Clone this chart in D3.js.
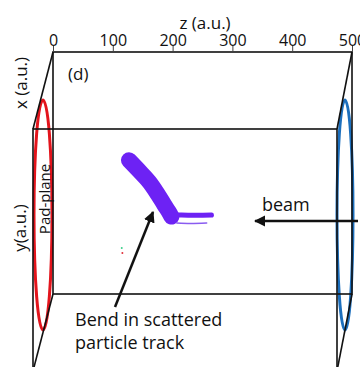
<!DOCTYPE html>
<html>
<head>
<meta charset="utf-8">
<script src="https://cdn.jsdelivr.net/npm/d3@7"></script>
<style>
  html, body { margin: 0; padding: 0; background: #fff; }
  svg { display: block; }
  text { font-family: "Open Sans", Lato, sans-serif; fill: #111; }
</style>
</head>
<body>
<svg id="chart" width="360" height="367"></svg>
<script>
// z-axis ticks (arbitrary units)
const zTicks = [0, 100, 200, 300, 400, 500];

// Scattered particle track: curved part (z, y in a.u.)
const trackCurveZ = [127, 144, 161, 175, 186, 194, 198];
const trackCurveY = [55.3, 50.9, 46.3, 41.3, 36.9, 33.8, 32.0];
// Flat part of the track, running along the beam direction
const trackFlatZ = [192, 215, 240, 265];
const trackFlatY = [32.6, 32.6, 32.5, 32.6];
// Faint secondary hits just below the flat part
const trackFaintZ = [207, 230, 257];
const trackFaintY = [29.3, 29.1, 29.3];
// Stray single hits
const strayZ = [116, 115];
const strayY = [16.9, 19.0];
const strayColor = ["#e0303a", "#3ad08a"];

const svg = d3.select("#chart");

// Back-face scales
const z = d3.scaleLinear().domain([0, 500]).range([53, 352]);
const y = d3.scaleLinear().domain([0, 100]).range([294, 52]);

// Front face is shifted down-left relative to the back face
const frontL = 33, frontR = 337, frontT = 129, frontB = 371;
const backL = z(0), backR = z(500), backT = y(100), backB = y(0);

// Pad-plane (red) and beam-end (blue) ellipses
svg.append("ellipse")
  .attr("cx", 43).attr("cy", 215).attr("rx", 9).attr("ry", 115)
  .attr("fill", "none").attr("stroke", "#e3141c").attr("stroke-width", 3);
svg.append("ellipse")
  .attr("cx", 345).attr("cy", 215).attr("rx", 8).attr("ry", 115)
  .attr("fill", "none").attr("stroke", "#1c6fbd").attr("stroke-width", 3);

// Box edges
const box = svg.append("g").attr("stroke", "#111").attr("stroke-width", 1.6).attr("fill", "none");
box.append("rect").attr("x", backL).attr("y", backT).attr("width", backR - backL).attr("height", backB - backT);
box.append("rect").attr("x", frontL).attr("y", frontT).attr("width", frontR - frontL).attr("height", frontB - frontT);
[[backL, backT, frontL, frontT], [backR, backT, frontR, frontT],
 [backL, backB, frontL, frontB], [backR, backB, frontR, frontB]].forEach(d => {
  box.append("line").attr("x1", d[0]).attr("y1", d[1]).attr("x2", d[2]).attr("y2", d[3]);
});

// Top z axis
const zAxis = d3.axisTop(z).tickValues(zTicks).tickSize(6).tickPadding(0).tickFormat(d3.format("d"));
const ax = svg.append("g").attr("transform", `translate(0,${backT})`).call(zAxis);
ax.select(".domain").remove();
ax.selectAll(".tick line").attr("stroke", "#444").attr("stroke-width", 1);
ax.selectAll(".tick text").attr("font-size", 16).attr("fill", "#111")
  .attr("font-family", "'Open Sans', Lato, sans-serif");

// Axis titles
svg.append("text").attr("x", 205).attr("y", 29).attr("text-anchor", "middle")
  .attr("font-size", 17).text("z (a.u.)");
svg.append("text").attr("transform", "translate(27,83) rotate(-90)").attr("text-anchor", "middle")
  .attr("font-size", 17).text("x (a.u.)");
svg.append("text").attr("transform", "translate(26,228) rotate(-90)").attr("text-anchor", "middle")
  .attr("font-size", 17).text("y(a.u.)");
svg.append("text").attr("transform", "translate(50,199) rotate(-90)").attr("text-anchor", "middle")
  .attr("font-size", 15).text("Pad-plane");
svg.append("text").attr("x", 68).attr("y", 80).attr("font-size", 17).text("(d)");

// Track
const trackColor = "#6d22f4";
const line = d3.line().x(d => z(d[0])).y(d => y(d[1])).curve(d3.curveCatmullRom);
svg.append("path")
  .attr("d", line(trackCurveZ.map((v, i) => [v, trackCurveY[i]])))
  .attr("fill", "none").attr("stroke", trackColor).attr("stroke-width", 16)
  .attr("stroke-linecap", "round").attr("stroke-linejoin", "round");
svg.append("path")
  .attr("d", line(trackFlatZ.map((v, i) => [v, trackFlatY[i]])))
  .attr("fill", "none").attr("stroke", trackColor).attr("stroke-width", 5)
  .attr("stroke-linecap", "round");
svg.append("path")
  .attr("d", line(trackFaintZ.map((v, i) => [v, trackFaintY[i]])))
  .attr("fill", "none").attr("stroke", "#8a5cf0").attr("stroke-width", 1.5)
  .attr("stroke-linecap", "round");
svg.selectAll(".stray").data(strayZ).join("circle")
  .attr("cx", d => z(d)).attr("cy", (d, i) => y(strayY[i])).attr("r", 1)
  .attr("fill", (d, i) => strayColor[i]);

// Arrows
const defs = svg.append("defs");
defs.append("marker").attr("id", "head").attr("viewBox", "0 0 10 10")
  .attr("refX", 9).attr("refY", 5).attr("markerWidth", 4.5).attr("markerHeight", 4.5)
  .attr("markerUnits", "strokeWidth").attr("orient", "auto")
  .append("path").attr("d", "M0,0 L10,5 L0,10 Z").attr("fill", "#111");

svg.append("line").attr("x1", 358).attr("y1", 221).attr("x2", 255).attr("y2", 221)
  .attr("stroke", "#111").attr("stroke-width", 2.5).attr("marker-end", "url(#head)");
svg.append("line").attr("x1", 115).attr("y1", 307).attr("x2", 153).attr("y2", 212)
  .attr("stroke", "#111").attr("stroke-width", 2.5).attr("marker-end", "url(#head)");

// Annotations
svg.append("text").attr("x", 262).attr("y", 211).attr("font-size", 18).text("beam");
const note = svg.append("text").attr("font-size", 18);
note.append("tspan").attr("x", 75).attr("y", 326).text("Bend in scattered");
note.append("tspan").attr("x", 75).attr("y", 349).text("particle track");
</script>
</body>
</html>
